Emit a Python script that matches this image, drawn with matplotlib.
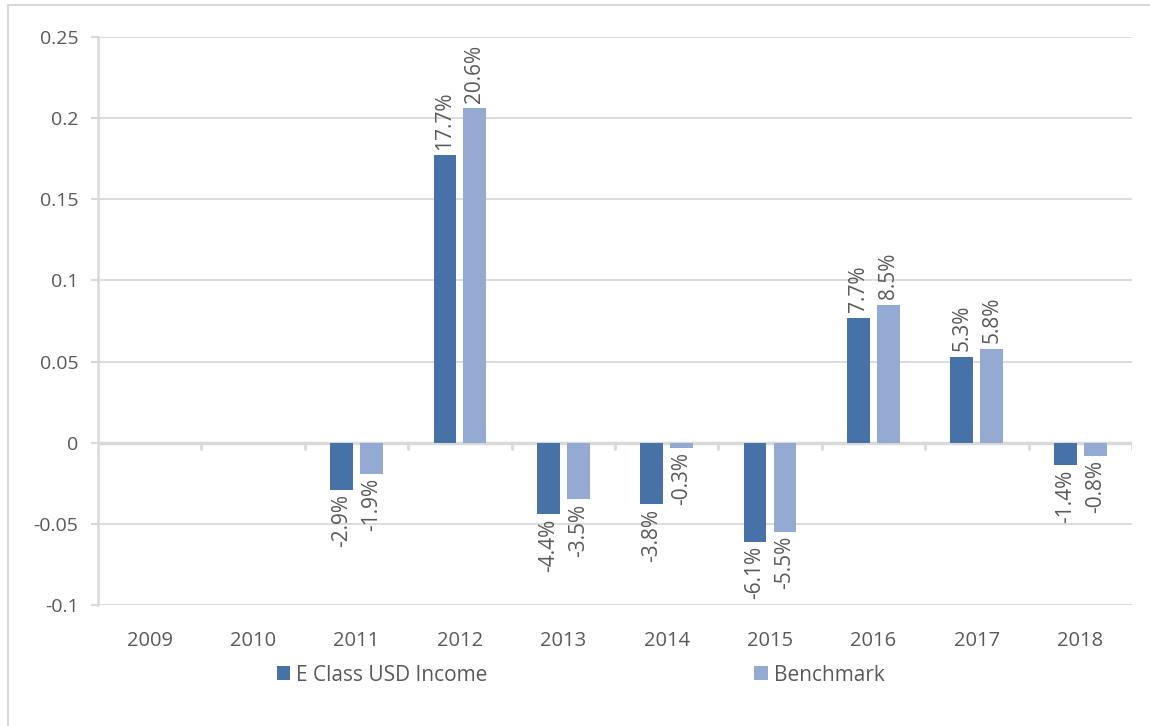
import numpy as np
import matplotlib.pyplot as plt
from matplotlib.patches import Rectangle

# data
years = ['2009', '2010', '2011', '2012', '2013', '2014', '2015', '2016', '2017', '2018']
fund = [np.nan, np.nan, -0.029, 0.177, -0.044, -0.038, -0.061, 0.077, 0.053, -0.014]
bench = [np.nan, np.nan, -0.019, 0.206, -0.035, -0.003, -0.055, 0.085, 0.058, -0.008]
series_names = ['E Class USD Income', 'Benchmark']
yticks = [-0.1, -0.05, 0, 0.05, 0.1, 0.15, 0.2, 0.25]
ytick_labels = ['-0.1', '-0.05', '0', '0.05', '0.1', '0.15', '0.2', '0.25']

dark = '#4672A8'
light = '#95AAD2'
grid_c = '#D9D9D9'
text_c = '#595959'

plt.rcParams['font.family'] = ['Open Sans', 'DejaVu Sans']

fig = plt.figure(figsize=(11.5, 7.26), dpi=100)
ax = fig.add_axes([0.0852, 0.1667, 0.8991, 0.7823])

x = np.arange(len(years))
w = 0.22
off = 0.145
b1 = ax.bar(x - off, fund, w, color=dark, label=series_names[0], zorder=3)
b2 = ax.bar(x + off, bench, w, color=light, label=series_names[1], zorder=3)

# rotated value labels
for bars, vals in ((b1, fund), (b2, bench)):
    for rect, v in zip(bars, vals):
        if np.isnan(v):
            continue
        cx = rect.get_x() + rect.get_width() / 2
        if v >= 0:
            ax.annotate(f'{v*100:.1f}%', (cx, v), xytext=(0, 4), textcoords='offset points',
                        rotation=90, ha='center', va='bottom', fontsize=15, color=text_c)
        else:
            ax.annotate(f'{v*100:.1f}%', (cx, v), xytext=(0, -3), textcoords='offset points',
                        rotation=90, ha='center', va='top', fontsize=15, color=text_c)

ax.set_xlim(-0.5, len(years) - 0.5)
ax.set_ylim(-0.1, 0.25)
ax.set_yticks(yticks)
ax.set_yticklabels(ytick_labels)
ax.set_xticks(x)
ax.set_xticklabels(years)
ax.tick_params(axis='x', length=0, pad=19, labelsize=14.5, labelcolor=text_c)
ax.tick_params(axis='y', length=5, width=1.5, color=grid_c, pad=9, labelsize=14, labelcolor=text_c)

ax.grid(axis='y', color=grid_c, lw=1.3, zorder=0)
for s in ('top', 'right', 'bottom'):
    ax.spines[s].set_visible(False)
ax.spines['left'].set_color(grid_c)
ax.spines['left'].set_linewidth(1.8)

# zero axis line with category separator ticks
ax.axhline(0, color=grid_c, lw=2.5, zorder=2)
ax.vlines(np.arange(len(years) + 1) - 0.5, -0.0045, 0, color=grid_c, lw=2, zorder=2)

leg = fig.legend(handles=[b1, b2], loc='center', bbox_to_anchor=(0.505, 0.07), ncol=2,
                 frameon=False, fontsize=15, handlelength=0.65, handleheight=0.65,
                 columnspacing=12.8, handletextpad=0.3)
for t in leg.get_texts():
    t.set_color(text_c)

# outer chart border (cropped at right and bottom)
fig.patches.append(Rectangle((8 / 1150, -0.1), 1.2, 1.1 - 5 / 726, transform=fig.transFigure,
                             fill=False, edgecolor=grid_c, lw=1.5))

fig.savefig('out.png', dpi=100)
